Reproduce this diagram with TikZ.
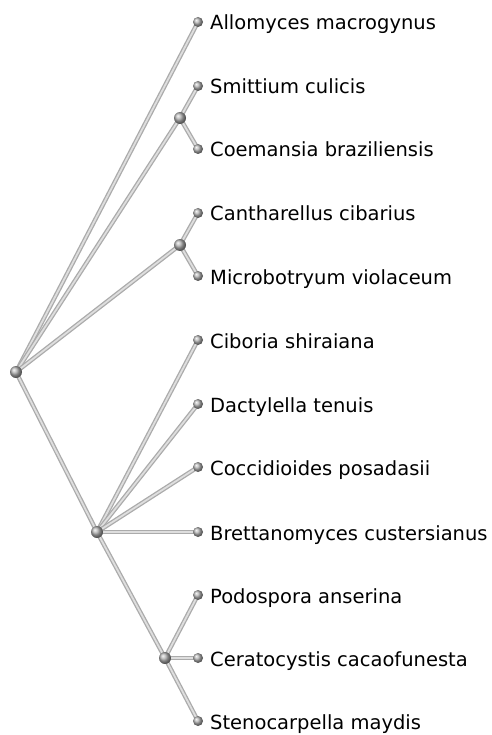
\documentclass[tikz,border=0pt]{standalone}
\usepackage{fontspec}
\setmainfont{DejaVu Sans}
\usetikzlibrary{positioning, backgrounds}

\begin{document}
\begin{tikzpicture}[
    x=1pt, y=-1pt,
    edge/.style={draw=black!33, line width=1.3pt, double=black!13, double distance=1.8pt},
    leaf/.style={circle, inner sep=0pt, minimum size=10pt, shading=ball, ball color=black!30},
    inner/.style={circle, inner sep=0pt, minimum size=12pt, shading=ball, ball color=black!30},
    lab/.style={anchor=base west, inner sep=0pt, font=\fontsize{19.5}{22}\selectfont, text=black}
]
    \useasboundingbox (0,0) rectangle (491,735);

    % Root and inner nodes
    \node[inner] (root) at (16,372) {};
    \node[inner] (zyg) at (180,118) {};
    \node[inner] (basi) at (180,245) {};
    \node[inner] (asco) at (97,532) {};
    \node[inner] (sord) at (165,658) {};

    % Leaves
    \node[leaf] (allo) at (198,22) {};
    \node[leaf] (smit) at (198,86) {};
    \node[leaf] (coem) at (198,149) {};
    \node[leaf] (cant) at (198,213) {};
    \node[leaf] (micr) at (198,276) {};
    \node[leaf] (cibo) at (198,340) {};
    \node[leaf] (dact) at (198,404) {};
    \node[leaf] (cocc) at (198,467) {};
    \node[leaf] (bret) at (198,532) {};
    \node[leaf] (podo) at (198,595) {};
    \node[leaf] (cera) at (198,658) {};
    \node[leaf] (sten) at (198,721) {};

    % Labels
    \node[lab] (allo-t) at (210,30) {Allomyces macrogynus};
    \node[lab] (smit-t) at (210,94) {Smittium culicis};
    \node[lab] (coem-t) at (210,157) {Coemansia braziliensis};
    \node[lab] (cant-t) at (210,221) {Cantharellus cibarius};
    \node[lab] (micr-t) at (210,284) {Microbotryum violaceum};
    \node[lab] (cibo-t) at (210,348) {Ciboria shiraiana};
    \node[lab] (dact-t) at (210,412) {Dactylella tenuis};
    \node[lab] (cocc-t) at (210,475) {Coccidioides posadasii};
    \node[lab] (bret-t) at (210,540) {Brettanomyces custersianus};
    \node[lab] (podo-t) at (210,603) {Podospora anserina};
    \node[lab] (cera-t) at (210,666) {Ceratocystis cacaofunesta};
    \node[lab] (sten-t) at (210,729) {Stenocarpella maydis};

    % Branches
    \begin{scope}[on background layer]
        \draw[edge] (root.center) -- (allo.center);
        \draw[edge] (root.center) -- (zyg.center);
        \draw[edge] (root.center) -- (basi.center);
        \draw[edge] (root.center) -- (asco.center);
        \draw[edge] (zyg.center) -- (smit.center);
        \draw[edge] (zyg.center) -- (coem.center);
        \draw[edge] (basi.center) -- (cant.center);
        \draw[edge] (basi.center) -- (micr.center);
        \draw[edge] (asco.center) -- (cibo.center);
        \draw[edge] (asco.center) -- (dact.center);
        \draw[edge] (asco.center) -- (cocc.center);
        \draw[edge] (asco.center) -- (bret.center);
        \draw[edge] (asco.center) -- (sord.center);
        \draw[edge] (sord.center) -- (podo.center);
        \draw[edge] (sord.center) -- (cera.center);
        \draw[edge] (sord.center) -- (sten.center);
    \end{scope}
\end{tikzpicture}
\end{document}
